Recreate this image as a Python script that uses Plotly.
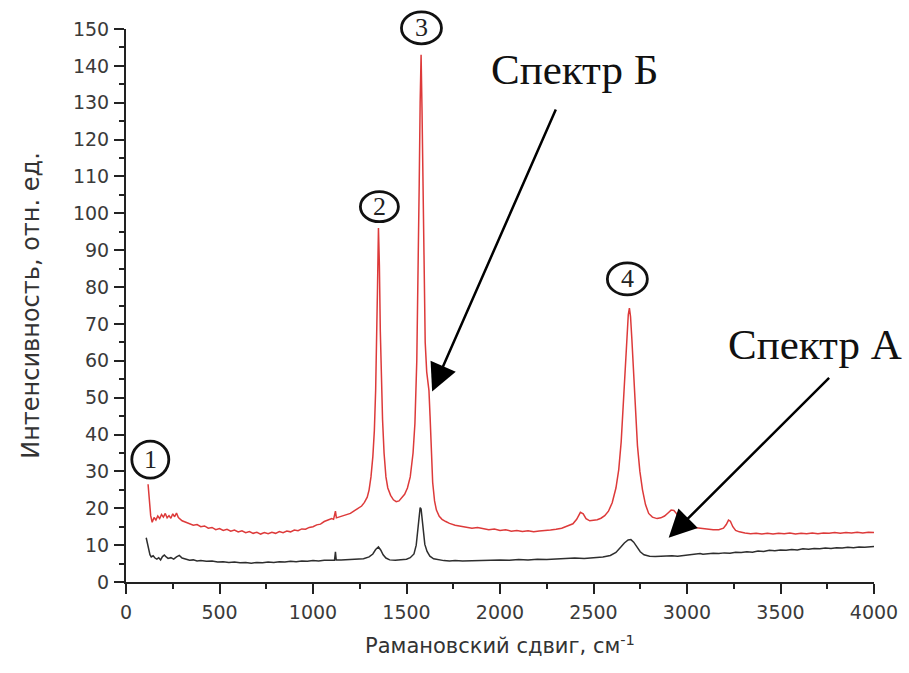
import plotly.graph_objects as go

# ---- Spectrum B (red) ----
x_red = [118, 125, 132, 140, 150, 160, 170, 180, 190, 200, 210, 220, 230, 240, 250, 260, 270, 280, 290, 300,
         320, 340, 360, 380, 400, 420, 440, 460, 480, 500, 520, 540, 560, 580, 600, 620, 640, 660, 680, 700,
         720, 740, 760, 780, 800, 820, 840, 860, 880, 900, 920, 940, 960, 980, 1000, 1020, 1040, 1060, 1080, 1100,
         1110, 1120, 1125, 1140, 1160, 1180, 1200, 1220, 1240, 1260, 1275, 1290, 1300, 1310, 1320, 1328, 1335, 1340, 1345, 1350,
         1355, 1360, 1365, 1372, 1380, 1390, 1400, 1415, 1430, 1445, 1460, 1475, 1490, 1505, 1520, 1535, 1545, 1555, 1562, 1568,
         1573, 1578, 1583, 1588, 1594, 1600, 1608, 1615, 1620, 1626, 1632, 1640, 1650, 1660, 1675, 1690, 1710, 1730, 1760, 1790,
         1820, 1850, 1880, 1910, 1940, 1970, 2000, 2030, 2060, 2090, 2120, 2150, 2180, 2210, 2240, 2270, 2300, 2330, 2360, 2390,
         2410, 2430, 2445, 2460, 2480, 2500, 2520, 2540, 2560, 2580, 2600, 2620, 2635, 2648, 2660, 2670, 2680, 2686, 2692, 2698,
         2705, 2715, 2725, 2735, 2748, 2762, 2778, 2795, 2815, 2840, 2860, 2880, 2900, 2915, 2930, 2945, 2960, 2980, 3000, 3020,
         3050, 3080, 3110, 3140, 3170, 3195, 3210, 3222, 3232, 3245, 3260, 3280, 3310, 3340, 3370, 3400, 3430, 3460, 3490, 3520,
         3550, 3580, 3610, 3640, 3670, 3700, 3730, 3760, 3790, 3820, 3850, 3880, 3910, 3940, 3970, 4000]
y_red = [26.5, 22.0, 18.0, 16.2, 17.5, 16.8, 17.9, 17.2, 18.3, 17.6, 18.6, 17.4, 18.0, 17.3, 18.5, 17.7, 18.7, 17.5, 16.9, 16.6,
         16.2, 15.9, 15.4, 15.6, 15.0, 15.2, 14.6, 14.8, 14.2, 14.5, 14.0, 14.3, 13.8, 14.1, 13.6, 13.9, 13.4, 13.7, 13.2, 13.5,
         13.0, 13.4, 13.1, 13.5, 13.2, 13.7, 13.4, 13.8, 13.6, 14.1, 13.9, 14.4, 14.3, 14.8, 15.0, 15.5, 15.7, 16.4, 16.8, 17.2,
         17.0, 19.2, 17.4, 17.6, 18.0, 18.3, 18.6, 19.3, 20.0, 20.6, 21.6, 23.0, 25.0, 28.5, 34.0, 41.0, 52.0, 63.0, 80.0, 96.0,
         86.0, 68.0, 56.0, 44.0, 35.0, 28.5, 25.5, 23.5, 22.3, 21.8, 22.0, 22.8, 23.8, 25.5, 28.5, 35.0, 43.0, 60.0, 82.0, 108.0,
         130.0, 143.0, 128.0, 104.0, 80.0, 65.0, 57.0, 54.0, 52.0, 45.0, 35.0, 27.0, 22.0, 19.5, 17.8, 17.0, 16.4, 15.9, 15.4, 15.1,
         14.9, 14.6, 14.8, 14.5, 14.2, 14.4, 14.0, 14.2, 13.8, 14.0, 13.7, 13.9, 13.6, 13.8, 13.9, 14.1, 14.3, 14.6, 15.2, 15.8,
         17.0, 18.9, 18.5, 17.2, 16.6, 16.7, 16.9, 17.3, 18.0, 19.2, 21.5, 25.5, 30.5, 38.0, 48.0, 58.0, 68.0, 72.5, 74.3, 72.0,
         66.0, 55.0, 45.0, 37.0, 30.0, 25.0, 21.0, 18.6, 17.6, 17.2, 17.4, 17.9, 18.8, 19.5, 19.4, 18.5, 17.0, 16.0, 15.4, 15.0,
         14.7, 14.5, 14.3, 14.2, 14.2, 14.6, 15.6, 16.8, 16.5, 15.0, 14.0, 13.6, 13.3, 13.1, 13.2, 13.0, 13.2, 13.0, 13.2, 13.1,
         13.3, 13.0, 13.2, 13.1, 13.3, 13.1, 13.3, 13.2, 13.4, 13.2, 13.4, 13.3, 13.5, 13.3, 13.5, 13.4]

# ---- Spectrum A (black) ----
x_black = [108, 114, 120, 128, 135, 145, 155, 165, 175, 185, 195, 205, 215, 225, 240, 255, 270, 285, 300, 320,
           340, 360, 380, 400, 430, 460, 490, 520, 550, 580, 610, 640, 670, 700, 730, 760, 790, 820, 850, 880,
           910, 940, 970, 1000, 1030, 1060, 1090, 1115, 1120, 1124, 1150, 1180, 1210, 1240, 1270, 1300, 1320, 1335, 1350, 1362,
           1375, 1390, 1410, 1440, 1470, 1500, 1520, 1540, 1552, 1562, 1568, 1573, 1578, 1584, 1590, 1598, 1610, 1625, 1645, 1670,
           1700, 1730, 1760, 1800, 1850, 1900, 1950, 2000, 2050, 2100, 2150, 2200, 2250, 2300, 2350, 2400, 2450, 2500, 2550, 2590,
           2620, 2645, 2665, 2685, 2700, 2715, 2730, 2750, 2770, 2800, 2830, 2860, 2890, 2920, 2950, 2980, 3010, 3040, 3070, 3085,
           3110, 3140, 3170, 3200, 3230, 3260, 3290, 3320, 3350, 3380, 3410, 3440, 3470, 3500, 3530, 3560, 3590, 3620, 3650, 3680,
           3710, 3740, 3770, 3800, 3830, 3860, 3890, 3920, 3950, 3980, 4000]
y_black = [12.0, 10.5, 8.8, 7.4, 6.8, 7.1, 6.5, 6.2, 6.6, 6.0, 6.9, 7.3, 6.8, 6.4, 6.6, 6.2, 6.8, 7.2, 6.5, 6.1,
           5.9, 6.0, 5.7, 5.8, 5.6, 5.7, 5.4, 5.5, 5.3, 5.4, 5.2, 5.3, 5.1, 5.3, 5.2, 5.4, 5.3, 5.5, 5.4, 5.6,
           5.5, 5.7, 5.6, 5.8, 5.7, 5.9, 5.8, 5.9, 8.2, 6.0, 6.0, 6.1, 6.0, 6.1, 6.3, 6.8, 7.6, 8.8, 9.5, 8.7,
           7.4, 6.5, 6.0, 5.9, 6.0, 6.2, 6.6, 7.6, 10.0, 14.5, 18.0, 20.2, 19.8, 16.5, 13.0, 10.2, 8.3, 7.0, 6.3, 6.0,
           5.8, 5.7, 5.8, 5.7, 5.8, 5.9, 5.8, 6.0, 5.9, 6.1, 6.0, 6.2, 6.1, 6.3, 6.3, 6.5, 6.4, 6.6, 6.8, 7.2,
           8.0, 9.4, 10.6, 11.4, 11.5, 10.8, 9.6, 8.2, 7.4, 7.0, 6.9, 7.0, 6.9, 7.1, 7.0, 7.2, 7.3, 7.4, 7.7, 7.5,
           7.6, 7.8, 7.7, 7.9, 7.8, 8.1, 8.0, 8.2, 8.1, 8.4, 8.3, 8.6, 8.5, 8.7, 8.6, 8.8, 8.7, 9.0, 8.9, 9.1,
           9.0, 9.2, 9.1, 9.3, 9.2, 9.4, 9.3, 9.5, 9.4, 9.6, 9.6]

# ---- Peak markers ----
peak_labels = ["1", "2", "3", "4"]
peak_x = [130, 1355, 1580, 2681]
peak_y = [33.2, 101.8, 150.3, 82.2]
peak_w = [37, 38, 40, 40]
peak_h = [37, 30, 32, 32]

# ---- Spectrum captions and arrows ----
cap_text = ["Спектр Б", "Спектр А"]
cap_x = [2398, 3682]
cap_y = [138.9, 64.4]
arrow_tail_x = [2302, 3768]
arrow_tail_y = [128.6, 55.8]
arrow_head_x = [1637, 2902]
arrow_head_y = [51.7, 12.0]

Y_MAX = 150

fig = go.Figure()
fig.add_trace(go.Scatter(x=x_black, y=y_black, mode="lines",
                         line=dict(color="#2e2e2e", width=1.5), showlegend=False))
fig.add_trace(go.Scatter(x=x_red, y=y_red, mode="lines",
                         line=dict(color="#dd3a3a", width=1.5), showlegend=False))

serif = "Liberation Serif, Times New Roman, serif"
sans = "DejaVu Sans, Arial, sans-serif"

for lab, cx, cy, w, h in zip(peak_labels, peak_x, peak_y, peak_w, peak_h):
    fig.add_shape(type="circle", xref="x", yref="paper",
                  xsizemode="pixel", ysizemode="pixel",
                  xanchor=cx, yanchor=cy / Y_MAX,
                  x0=-w / 2, x1=w / 2, y0=-h / 2, y1=h / 2,
                  line=dict(color="#111111", width=2.8))
    fig.add_annotation(x=cx, y=cy / Y_MAX, xref="x", yref="paper", text=lab, showarrow=False,
                       font=dict(family=serif, size=26, color="#222222"),
                       xanchor="center", yanchor="middle")

for t, tx, ty in zip(cap_text, cap_x, cap_y):
    fig.add_annotation(x=tx, y=ty, text=t, showarrow=False,
                       font=dict(family=serif, size=43, color="#111111"),
                       xanchor="center", yanchor="middle")

for hx, hy, tx, ty in zip(arrow_head_x, arrow_head_y, arrow_tail_x, arrow_tail_y):
    fig.add_annotation(x=hx, y=hy, ax=tx, ay=ty, axref="x", ayref="y",
                       text="", showarrow=True, arrowhead=2, arrowsize=2.2,
                       arrowwidth=2.5, arrowcolor="#000000", standoff=0)

fig.update_layout(
    width=909, height=673,
    margin=dict(l=126, r=35, t=29, b=91),
    plot_bgcolor="white", paper_bgcolor="white",
    font=dict(family=sans, size=19, color="#333333"),
    xaxis=dict(range=[0, 4000], tickvals=[0, 500, 1000, 1500, 2000, 2500, 3000, 3500, 4000],
               ticks="outside", ticklen=10, tickwidth=2, tickcolor="#222222",
               showline=True, linecolor="#222222", linewidth=2, showgrid=False, zeroline=False,
               minor=dict(dtick=250, ticks="outside", ticklen=5, tickwidth=1.5, tickcolor="#222222"),
               tickfont=dict(family=sans, size=19, color="#3a3a3a"), ticklabelstandoff=2,
               title=dict(text="Рамановский сдвиг, см<sup>-1</sup>",
                          font=dict(family=sans, size=21, color="#333333"), standoff=17)),
    yaxis=dict(range=[0, Y_MAX], dtick=10,
               ticks="outside", ticklen=10, tickwidth=2, tickcolor="#222222",
               showline=True, linecolor="#222222", linewidth=2, showgrid=False, zeroline=False,
               minor=dict(dtick=5, ticks="outside", ticklen=5, tickwidth=1.5, tickcolor="#222222"),
               tickfont=dict(family=sans, size=19, color="#3a3a3a"), ticklabelstandoff=1,
               title=dict(text="Интенсивность, отн. ед.",
                          font=dict(family=sans, size=24, color="#333333"), standoff=27)),
)

fig.write_html("out.html")
